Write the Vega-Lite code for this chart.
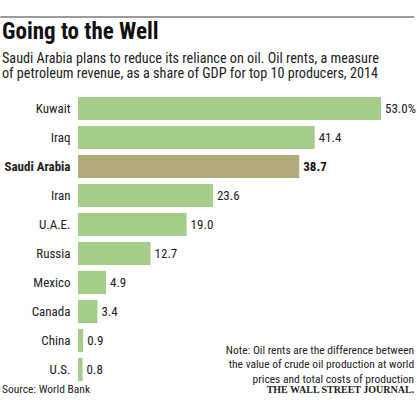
{
  "$schema": "https://vega.github.io/schema/vega-lite/v6.json",
  "width": 339,
  "height": 290,
  "autosize": {"type": "none"},
  "padding": {"left": 78, "top": 94, "right": 0, "bottom": 16},
  "background": "white",
  "config": {
    "view": {"stroke": null},
    "font": "Roboto Condensed"
  },
  "title": {
    "text": "Going to the Well",
    "subtitle": ["Saudi Arabia plans to reduce its reliance on oil. Oil rents, a measure", "of petroleum revenue, as a share of GDP for top 10 producers, 2014"],
    "anchor": "start",
    "frame": "group",
    "dx": -76,
    "offset": -65,
    "font": "Roboto Condensed",
    "fontSize": 23,
    "fontWeight": "bold",
    "color": "#111111",
    "subtitleFont": "Roboto Condensed",
    "subtitleFontSize": 14.2,
    "subtitleColor": "#222222",
    "subtitleLineHeight": 15.5,
    "subtitlePadding": 8
  },
  "datasets": {
    "oil": [
      {"country": "Kuwait", "value": 53.0, "label": "53.0%"},
      {"country": "Iraq", "value": 41.4, "label": "41.4"},
      {"country": "Saudi Arabia", "value": 38.7, "label": "38.7"},
      {"country": "Iran", "value": 23.6, "label": "23.6"},
      {"country": "U.A.E.", "value": 19.0, "label": "19.0"},
      {"country": "Russia", "value": 12.7, "label": "12.7"},
      {"country": "Mexico", "value": 4.9, "label": "4.9"},
      {"country": "Canada", "value": 3.4, "label": "3.4"},
      {"country": "China", "value": 0.9, "label": "0.9"},
      {"country": "U.S.", "value": 0.8, "label": "0.8"}
    ]
  },
  "data": {"name": "oil"},
  "encoding": {
    "y": {
      "field": "country",
      "type": "nominal",
      "sort": null,
      "scale": {"paddingInner": 0.2, "paddingOuter": 0.1},
      "axis": {
        "title": null,
        "domain": false,
        "ticks": false,
        "labelPadding": 8,
        "labelFont": "Roboto Condensed",
        "labelFontSize": 13,
        "labelColor": "#222222",
        "labelFontWeight": {"condition": {"test": "datum.value === 'Saudi Arabia'", "value": "bold"}, "value": "normal"}
      }
    }
  },
  "layer": [
    {
      "mark": {"type": "bar"},
      "encoding": {
        "x": {"field": "value", "type": "quantitative", "scale": {"domain": [0, 59.3], "nice": false, "zero": true}, "axis": null},
        "color": {
          "condition": {"test": "datum.country === 'Saudi Arabia'", "value": "#b2ab79"},
          "value": "#a6cc8a"
        }
      }
    },
    {
      "transform": [{"filter": "datum.country !== 'Saudi Arabia'"}],
      "mark": {"type": "text", "align": "left", "baseline": "middle", "dx": 4, "fontSize": 13, "color": "#222222"},
      "encoding": {
        "x": {"field": "value", "type": "quantitative"},
        "text": {"field": "label"}
      }
    },
    {
      "transform": [{"filter": "datum.country === 'Saudi Arabia'"}],
      "mark": {"type": "text", "align": "left", "baseline": "middle", "dx": 4, "fontSize": 13, "fontWeight": "bold", "color": "#111111"},
      "encoding": {
        "x": {"field": "value", "type": "quantitative"},
        "text": {"field": "label"}
      }
    },
    {
      "data": {"values": [{"note": ["Note: Oil rents are the difference between", "the value of crude oil production at world", "prices and total costs of production"]}]},
      "mark": {"type": "text", "align": "right", "baseline": "alphabetic", "dy": -16, "fontSize": 11.5, "lineHeight": 14.5, "color": "#222222"},
      "encoding": {
        "x": {"datum": 58.8, "type": "quantitative"},
        "y": {"datum": "U.S."},
        "text": {"field": "note"}
      }
    },
    {
      "data": {"values": [{"src": "Source: World Bank"}]},
      "mark": {"type": "text", "align": "left", "baseline": "alphabetic", "dy": 23.5, "fontSize": 11.5, "color": "#222222"},
      "encoding": {
        "x": {"datum": -13.3, "type": "quantitative"},
        "y": {"datum": "U.S."},
        "text": {"field": "src"}
      }
    },
    {
      "data": {"values": [{"brand": "THE WALL STREET JOURNAL."}]},
      "mark": {"type": "text", "align": "right", "baseline": "alphabetic", "dy": 23.5, "fontSize": 10, "font": "Liberation Serif", "fontWeight": "bold", "color": "#222222"},
      "encoding": {
        "x": {"datum": 58.8, "type": "quantitative"},
        "y": {"datum": "U.S."},
        "text": {"field": "brand"}
      }
    },
    {
      "data": {"values": [{"rule": 1}]},
      "mark": {"type": "rule", "orient": "horizontal", "color": "#7a7a7a", "strokeWidth": 1.5},
      "encoding": {
        "x": {"datum": -13.6, "type": "quantitative"},
        "x2": {"datum": 58.8},
        "y": {"value": -77}
      }
    }
  ]
}
